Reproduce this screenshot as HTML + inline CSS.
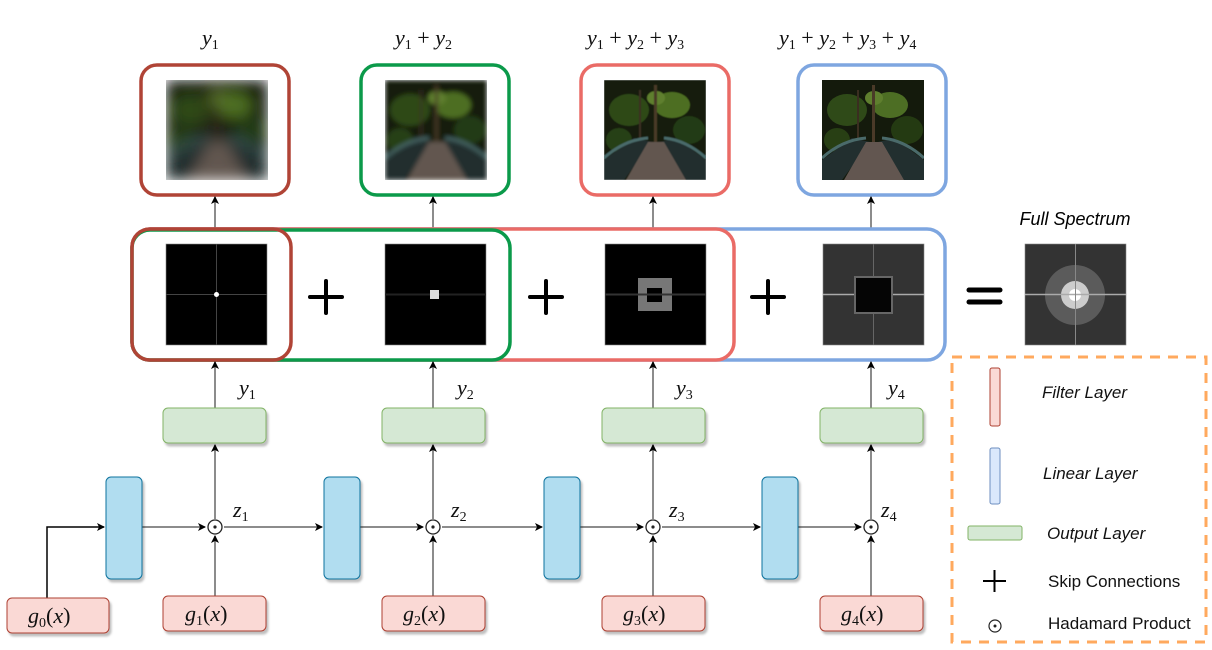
<!DOCTYPE html>
<html><head><meta charset="utf-8"><style>
html,body{margin:0;padding:0;background:#fff;}
svg{display:block;}
.m{font-family:"Liberation Serif",serif;font-style:italic;font-size:22px;fill:#111;}
.s{font-family:"Liberation Serif",serif;font-style:normal;font-size:14px;}
.lg{font-family:"Liberation Sans",sans-serif;font-size:17px;fill:#111;}
</style></head><body>
<svg width="1212" height="650" viewBox="0 0 1212 650" xmlns="http://www.w3.org/2000/svg">
<defs>
<marker id="ar" markerWidth="8" markerHeight="8" refX="7" refY="4" orient="auto" markerUnits="userSpaceOnUse">
<path d="M0,0 L8,4 L0,8 L2,4 z" fill="#000"/></marker>
<filter id="b1"><feGaussianBlur stdDeviation="7"/></filter>
<filter id="b2"><feGaussianBlur stdDeviation="2.5"/></filter>
<filter id="b3"><feGaussianBlur stdDeviation="0.6"/></filter>
<filter id="sh" x="-10%" y="-10%" width="130%" height="140%"><feDropShadow dx="2" dy="3" stdDeviation="1" flood-color="#000" flood-opacity="0.25"/></filter>
<clipPath id="cp"><rect x="0" y="0" width="102" height="100"/></clipPath>
<g id="photo">
<rect x="0" y="0" width="102" height="100" fill="#141a0c"/>
<ellipse cx="25" cy="30" rx="20" ry="16" fill="#2f4a18"/>
<ellipse cx="68" cy="25" rx="18" ry="13" fill="#4d6e24"/>
<ellipse cx="85" cy="50" rx="16" ry="14" fill="#243a12"/>
<ellipse cx="15" cy="60" rx="13" ry="12" fill="#283f14"/>
<ellipse cx="52" cy="18" rx="9" ry="7" fill="#5f7f2e"/>
<rect x="50" y="5" width="3" height="60" fill="#4a3a28"/>
<rect x="35" y="10" width="2" height="55" fill="#3a2e20"/>
<polygon points="0,80 30,58 48,62 20,100 0,100" fill="#222f2f"/>
<polygon points="102,80 72,58 56,62 82,100 102,100" fill="#222f2f"/>
<polygon points="44,62 60,62 82,100 22,100" fill="#625650"/>
<path d="M0,78 Q20,60 44,58" stroke="#4a6a6a" stroke-width="3" fill="none"/>
<path d="M102,78 Q82,60 60,58" stroke="#4a6a6a" stroke-width="3" fill="none"/>
</g>
</defs>

<text class="m" x="202" y="45">y<tspan class="s" dy="4">1</tspan></text>
<text class="m" x="395" y="45">y<tspan class="s" dy="4">1</tspan><tspan dy="-4" font-style="normal"> + </tspan>y<tspan class="s" dy="4">2</tspan></text>
<text class="m" x="587" y="45">y<tspan class="s" dy="4">1</tspan><tspan dy="-4" font-style="normal"> + </tspan>y<tspan class="s" dy="4">2</tspan><tspan dy="-4" font-style="normal"> + </tspan>y<tspan class="s" dy="4">3</tspan></text>
<text class="m" x="779" y="45">y<tspan class="s" dy="4">1</tspan><tspan dy="-4" font-style="normal"> + </tspan>y<tspan class="s" dy="4">2</tspan><tspan dy="-4" font-style="normal"> + </tspan>y<tspan class="s" dy="4">3</tspan><tspan dy="-4" font-style="normal"> + </tspan>y<tspan class="s" dy="4">4</tspan></text>

<rect x="141" y="65" width="148" height="130" rx="16" fill="#fff" stroke="#b04436" stroke-width="3.5"/>
<rect x="361" y="65" width="148" height="130" rx="16" fill="#fff" stroke="#0b9a4a" stroke-width="3.5"/>
<rect x="581" y="65" width="148" height="130" rx="16" fill="#fff" stroke="#ea6b66" stroke-width="3.5"/>
<rect x="798" y="65" width="148" height="130" rx="16" fill="#fff" stroke="#7ea6e0" stroke-width="3.5"/>
<g transform="translate(166,80)" clip-path="url(#cp)"><use href="#photo" filter="url(#b1)"/></g>
<g transform="translate(385,80)" clip-path="url(#cp)"><use href="#photo" filter="url(#b2)"/></g>
<g transform="translate(604,80)" clip-path="url(#cp)"><use href="#photo" filter="url(#b3)"/></g>
<g transform="translate(822,80)" clip-path="url(#cp)"><use href="#photo"/></g>

<g stroke="#666" stroke-width="1.5" marker-end="url(#ar)">
<line x1="215" y1="228" x2="215" y2="197"/>
<line x1="433" y1="228" x2="433" y2="197"/>
<line x1="653" y1="228" x2="653" y2="197"/>
<line x1="871" y1="228" x2="871" y2="197"/>
</g>

<rect x="132" y="229" width="813" height="131" rx="18" fill="#fff" stroke="#7ea6e0" stroke-width="3.5"/>
<rect x="132" y="229" width="602" height="131" rx="18" fill="#fff" stroke="#ea6b66" stroke-width="3.5"/>
<rect x="132" y="230" width="378" height="130" rx="18" fill="#fff" stroke="#0b9a4a" stroke-width="3.5"/>
<rect x="132" y="229" width="159" height="131" rx="18" fill="none" stroke="#b04436" stroke-width="3.5"/>

<rect x="166" y="244" width="101" height="101" fill="#000" stroke="#888" stroke-width="0.6"/>
<line x1="216.5" y1="244" x2="216.5" y2="345" stroke="#444" stroke-width="1"/>
<line x1="166" y1="294.5" x2="267" y2="294.5" stroke="#444" stroke-width="1"/>
<circle cx="216.5" cy="294.5" r="2.5" fill="#fff"/>
<rect x="385" y="244" width="101" height="101" fill="#000" stroke="#888" stroke-width="0.6"/>
<line x1="385" y1="294.5" x2="486" y2="294.5" stroke="#222" stroke-width="2"/>
<rect x="430" y="290" width="9" height="9" fill="#ddd"/>
<rect x="605" y="244" width="101" height="101" fill="#000" stroke="#888" stroke-width="0.6"/>
<rect x="638" y="278" width="34" height="33" fill="#777"/>
<rect x="647" y="288" width="15" height="14" fill="#000"/>
<line x1="605" y1="294.5" x2="706" y2="294.5" stroke="#333" stroke-width="2"/>
<rect x="823" y="244" width="101" height="101" fill="#333" stroke="#888" stroke-width="0.6"/>
<line x1="823" y1="294.5" x2="924" y2="294.5" stroke="#aaa" stroke-width="1.5"/>
<line x1="873.5" y1="244" x2="873.5" y2="345" stroke="#666" stroke-width="1"/>
<rect x="855" y="277" width="37" height="36" fill="#050505" stroke="#666" stroke-width="2"/>
<rect x="1025" y="244" width="101" height="101" fill="#333" stroke="#888" stroke-width="0.6"/>
<circle cx="1075" cy="295" r="30" fill="#777" opacity="0.6"/>
<circle cx="1075" cy="295" r="14" fill="#ccc"/>
<circle cx="1075" cy="295" r="6" fill="#fff"/>
<line x1="1025" y1="294.5" x2="1126" y2="294.5" stroke="#aaa" stroke-width="1.5"/>
<line x1="1075.5" y1="244" x2="1075.5" y2="345" stroke="#888" stroke-width="1"/>

<g stroke="#000" stroke-width="4" stroke-linecap="round">
<line x1="310" y1="297" x2="342" y2="297"/><line x1="326" y1="281" x2="326" y2="313"/>
<line x1="530" y1="297" x2="562" y2="297"/><line x1="546" y1="281" x2="546" y2="313"/>
<line x1="752" y1="297" x2="784" y2="297"/><line x1="768" y1="281" x2="768" y2="313"/>
<line x1="969" y1="290" x2="1000" y2="290" stroke-width="5"/><line x1="969" y1="302" x2="1000" y2="302" stroke-width="5"/>
</g>
<text x="1075" y="225" text-anchor="middle" font-family="Liberation Sans,sans-serif" font-style="italic" font-size="18" fill="#000">Full Spectrum</text>

<g stroke="#666" stroke-width="1.5" fill="none" marker-end="url(#ar)">
<line x1="215" y1="408" x2="215" y2="362"/><line x1="433" y1="408" x2="433" y2="362"/>
<line x1="653" y1="408" x2="653" y2="362"/><line x1="871" y1="408" x2="871" y2="362"/>
<line x1="215" y1="519" x2="215" y2="445"/><line x1="433" y1="519" x2="433" y2="445"/>
<line x1="653" y1="519" x2="653" y2="445"/><line x1="871" y1="519" x2="871" y2="445"/>
<line x1="215" y1="596" x2="215" y2="536"/><line x1="433" y1="596" x2="433" y2="536"/>
<line x1="653" y1="596" x2="653" y2="536"/><line x1="871" y1="596" x2="871" y2="536"/>
<line x1="142" y1="527" x2="205" y2="527"/><line x1="224" y1="527" x2="322" y2="527"/>
<line x1="360" y1="527" x2="423" y2="527"/><line x1="442" y1="527" x2="542" y2="527"/>
<line x1="580" y1="527" x2="643" y2="527"/><line x1="662" y1="527" x2="760" y2="527"/>
<line x1="798" y1="527" x2="861" y2="527"/>
<polyline points="47,598 47,527 104,527" stroke="#000"/>
</g>
<g fill="#fff" stroke="#222" stroke-width="1.3">
<circle cx="215" cy="527" r="7"/><circle cx="433" cy="527" r="7"/><circle cx="653" cy="527" r="7"/><circle cx="871" cy="527" r="7"/>
</g>
<g fill="#222"><circle cx="215" cy="527" r="1.6"/><circle cx="433" cy="527" r="1.6"/><circle cx="653" cy="527" r="1.6"/><circle cx="871" cy="527" r="1.6"/></g>

<g filter="url(#sh)">
<g fill="#d5e8d4" stroke="#82b366" stroke-width="1">
<rect x="163" y="408" width="103" height="35" rx="5"/><rect x="382" y="408" width="103" height="35" rx="5"/>
<rect x="602" y="408" width="103" height="35" rx="5"/><rect x="820" y="408" width="103" height="35" rx="5"/>
</g>
<g fill="#b1ddf0" stroke="#10739e" stroke-width="1">
<rect x="106" y="477" width="36" height="102" rx="5"/><rect x="324" y="477" width="36" height="102" rx="5"/>
<rect x="544" y="477" width="36" height="102" rx="5"/><rect x="762" y="477" width="36" height="102" rx="5"/>
</g>
<g fill="#fad9d5" stroke="#ae4132" stroke-width="1">
<rect x="7" y="598" width="102" height="35" rx="5"/><rect x="163" y="596" width="103" height="35" rx="5"/>
<rect x="382" y="596" width="103" height="35" rx="5"/><rect x="602" y="596" width="103" height="35" rx="5"/>
<rect x="820" y="596" width="103" height="35" rx="5"/>
</g>
</g>

<g class="m">
<text x="239" y="395">y<tspan class="s" dy="4">1</tspan></text>
<text x="457" y="395">y<tspan class="s" dy="4">2</tspan></text>
<text x="676" y="395">y<tspan class="s" dy="4">3</tspan></text>
<text x="888" y="395">y<tspan class="s" dy="4">4</tspan></text>
<text x="233" y="517">z<tspan class="s" dy="4">1</tspan></text>
<text x="451" y="517">z<tspan class="s" dy="4">2</tspan></text>
<text x="669" y="517">z<tspan class="s" dy="4">3</tspan></text>
<text x="881" y="517">z<tspan class="s" dy="4">4</tspan></text>
<text x="28" y="623">g<tspan class="s" dy="4">0</tspan><tspan dy="-4" font-style="normal">(</tspan>x<tspan font-style="normal">)</tspan></text>
<text x="185" y="621">g<tspan class="s" dy="4">1</tspan><tspan dy="-4" font-style="normal">(</tspan>x<tspan font-style="normal">)</tspan></text>
<text x="403" y="621">g<tspan class="s" dy="4">2</tspan><tspan dy="-4" font-style="normal">(</tspan>x<tspan font-style="normal">)</tspan></text>
<text x="623" y="621">g<tspan class="s" dy="4">3</tspan><tspan dy="-4" font-style="normal">(</tspan>x<tspan font-style="normal">)</tspan></text>
<text x="841" y="621">g<tspan class="s" dy="4">4</tspan><tspan dy="-4" font-style="normal">(</tspan>x<tspan font-style="normal">)</tspan></text>
</g>

<rect x="952" y="357" width="254" height="285" fill="none" stroke="#ffa95e" stroke-width="3" stroke-dasharray="10,8"/>
<rect x="990" y="368" width="10" height="58" rx="2" fill="#fad9d5" stroke="#ae4132"/>
<rect x="990" y="448" width="10" height="56" rx="2" fill="#dae8fc" stroke="#6c8ebf"/>
<rect x="968" y="526" width="54" height="14" rx="2" fill="#d5e8d4" stroke="#82b366"/>
<line x1="983" y1="581" x2="1006" y2="581" stroke="#000" stroke-width="2"/>
<line x1="994.5" y1="570" x2="994.5" y2="592" stroke="#000" stroke-width="2"/>
<circle cx="995" cy="626" r="6" fill="none" stroke="#222" stroke-width="1.2"/><circle cx="995" cy="626" r="1.5" fill="#222"/>
<text class="lg" x="1042" y="398" font-style="italic">Filter Layer</text>
<text class="lg" x="1043" y="479" font-style="italic">Linear Layer</text>
<text class="lg" x="1047" y="539" font-style="italic">Output Layer</text>
<text class="lg" x="1048" y="587">Skip Connections</text>
<text class="lg" x="1048" y="629">Hadamard Product</text>
</svg>
</body></html>
